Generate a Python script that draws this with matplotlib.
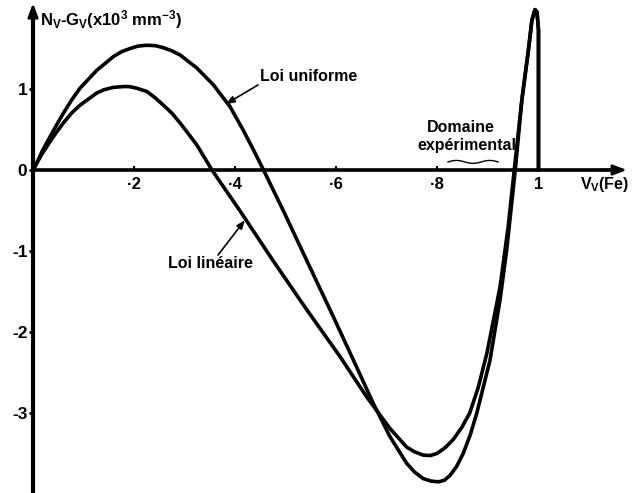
import numpy as np
import matplotlib
matplotlib.use("Agg")
import matplotlib.pyplot as plt

plt.rcParams['font.family'] = ['Liberation Sans', 'DejaVu Sans']
plt.rcParams['font.weight'] = 'bold'
plt.rcParams['mathtext.fontset'] = 'custom'
plt.rcParams['mathtext.rm'] = 'Liberation Sans:bold'
plt.rcParams['mathtext.it'] = 'Liberation Sans:bold'
plt.rcParams['mathtext.bf'] = 'Liberation Sans:bold'

# valeurs
x_unif = [0, 0.0073, 0.018, 0.0336, 0.047, 0.060, 0.076, 0.093, 0.126, 0.159, 0.175,
          0.192, 0.208, 0.225, 0.242, 0.258, 0.275, 0.291,
          0.324, 0.357, 0.390, 0.416, 0.436, 0.456, 0.495, 0.541, 0.594, 0.640, 0.673,
          0.706, 0.739, 0.755, 0.772, 0.787, 0.802, 0.814, 0.825, 0.838, 0.851, 0.865,
          0.878, 0.904, 0.924, 0.937, 0.947, 0.954,
          0.967, 0.980, 0.987, 0.993, 0.997, 1.0, 1.0]
y_unif = [0, 0.083, 0.23, 0.41, 0.56, 0.70, 0.86, 1.01, 1.23, 1.40, 1.46,
          1.50, 1.53, 1.54, 1.535, 1.51, 1.47, 1.42,
          1.26, 1.05, 0.78, 0.49, 0.25, 0.0, -0.50, -1.11, -1.81, -2.43, -2.88,
          -3.29, -3.62, -3.73, -3.81, -3.84, -3.85, -3.83, -3.77, -3.66, -3.50, -3.27,
          -3.00, -2.35, -1.60, -0.99, -0.41, 0.0,
          0.86, 1.48, 1.85, 1.98, 1.95, 1.73, 0.0]

x_lin = [0, 0.0073, 0.018, 0.0336, 0.047, 0.060, 0.076, 0.093, 0.126, 0.14, 0.159,
         0.179, 0.19, 0.205, 0.225, 0.24, 0.258, 0.275,
         0.291, 0.307, 0.324, 0.354, 0.409, 0.475, 0.541, 0.607, 0.660, 0.706,
         0.739, 0.755, 0.772, 0.786, 0.799, 0.815, 0.831, 0.848, 0.864, 0.881,
         0.898, 0.924, 0.940, 0.952,
         0.967, 0.980, 0.987, 0.993, 0.997, 1.0, 1.0]
y_lin = [0, 0.083, 0.20, 0.35, 0.47, 0.58, 0.70, 0.80, 0.95, 0.99, 1.02,
         1.03, 1.03, 1.01, 0.97, 0.90, 0.80, 0.70,
         0.58, 0.45, 0.31, 0.0, -0.50, -1.12, -1.72, -2.30, -2.80, -3.19,
         -3.42, -3.48, -3.52, -3.525, -3.50, -3.43, -3.33, -3.18, -3.00, -2.68,
         -2.26, -1.44, -0.70, 0.0,
         0.86, 1.48, 1.85, 1.98, 1.95, 1.73, 0.0]

xticks = [0.2, 0.4, 0.6, 0.8, 1.0]
xticklabels = ['·2', '·4', '·6', '·8', '1']
yticks = [-3, -2, -1, 0, 1]
yticklabels = ['-3', '-2', '-1', '0', '1']
domaine = [0.821, 0.920]

fig = plt.figure(figsize=(6.32, 4.93), dpi=100)
ax = fig.add_axes([0, 0, 1, 1])
ax.set_xlim(-33 / 505.5, 599 / 505.5)
ax.set_ylim(-323 / 81, 170 / 81)

ax.plot(x_unif, y_unif, 'k', lw=2.6, solid_joinstyle='round', solid_capstyle='round')
ax.plot(x_lin, y_lin, 'k', lw=2.6, solid_joinstyle='round', solid_capstyle='round')

for s in ['top', 'right']:
    ax.spines[s].set_visible(False)
ax.spines['left'].set_position(('data', 0))
ax.spines['bottom'].set_position(('data', 0))
ax.spines['left'].set_linewidth(3)
ax.spines['bottom'].set_linewidth(2.6)
ax.spines['left'].set_bounds(-4.0, 1.95)
ax.spines['bottom'].set_bounds(0, 1.14)

# fleches des axes
ax.annotate('', xy=(0, 2.06), xytext=(0, 1.9),
            arrowprops=dict(arrowstyle='-|>,head_width=0.3,head_length=0.8',
                            color='k', lw=2, shrinkA=0, shrinkB=0))
ax.annotate('', xy=(1.175, 0), xytext=(1.12, 0),
            arrowprops=dict(arrowstyle='-|>,head_width=0.3,head_length=0.8',
                            color='k', lw=2, shrinkA=0, shrinkB=0))

ax.set_xticks(xticks)
ax.set_xticklabels(xticklabels)
ax.set_yticks(yticks)
ax.set_yticklabels(yticklabels)
ax.tick_params(axis='x', direction='in', length=3, width=1.5, pad=5, labelsize=12)
ax.tick_params(axis='y', direction='out', length=3, width=2, pad=1, labelsize=12.5)
for lab in ax.get_xticklabels() + ax.get_yticklabels():
    lab.set_fontweight('bold')

ax.text(0.014, 1.78, r'$N_V$-$G_V$($x$10$^3$ mm$^{-3}$)', fontsize=12,
        ha='left', va='baseline')
ax.text(1.082, -0.185, r'$V_V$(Fe)', fontsize=11.5, ha='left', va='center')

ax.text(0.449, 1.16, 'Loi uniforme', fontsize=11.5, ha='left', va='center')
ax.annotate('', xy=(0.382, 0.815), xytext=(0.445, 1.05),
            arrowprops=dict(arrowstyle='-|>,head_width=0.2,head_length=0.5',
                            color='k', lw=1.2, shrinkA=0, shrinkB=0))
ax.text(0.352, -1.15, 'Loi linéaire', fontsize=11.5, ha='center', va='center')
ax.annotate('', xy=(0.419, -0.62), xytext=(0.366, -1.05),
            arrowprops=dict(arrowstyle='-|>,head_width=0.2,head_length=0.5',
                            color='k', lw=1.2, shrinkA=0, shrinkB=0))

ax.text(0.847, 0.53, 'Domaine', fontsize=11.5, ha='center', va='center')
ax.text(0.859, 0.30, 'expérimental', fontsize=11.5, ha='center', va='center')
xw = np.linspace(domaine[0], domaine[1], 60)
ax.plot(xw, 0.10 + 0.018 * np.sin((xw - domaine[0]) / (domaine[1] - domaine[0]) * 3 * np.pi),
        'k', lw=1)

fig.savefig('out.png', dpi=100)
